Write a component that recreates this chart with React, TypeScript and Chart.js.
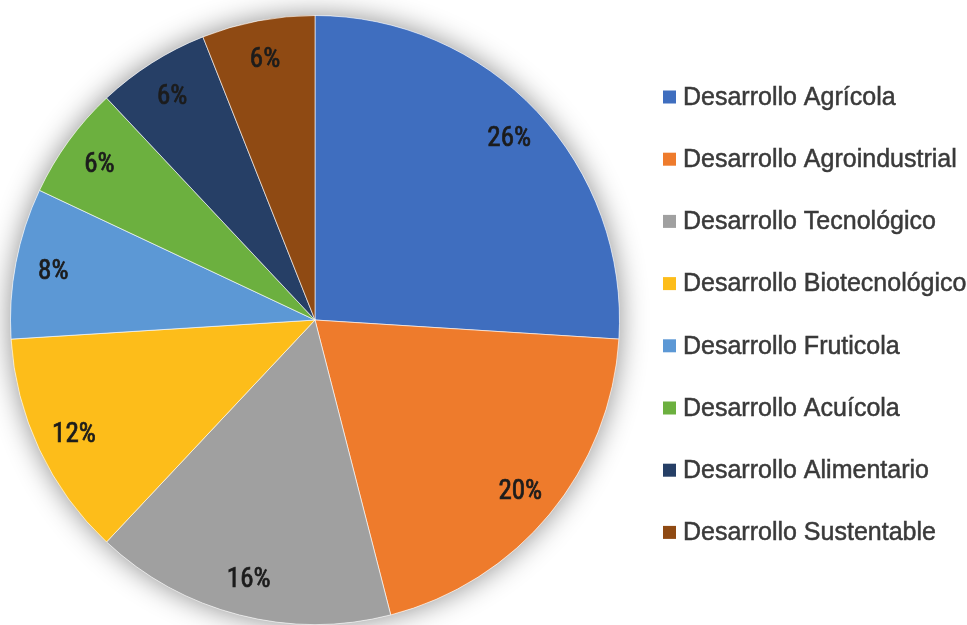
import React, { useEffect, useRef } from "react";
import { Chart, registerables } from "chart.js";

Chart.register(...registerables);

const categories = [
  "Desarrollo Agrícola",
  "Desarrollo Agroindustrial",
  "Desarrollo Tecnológico",
  "Desarrollo Biotecnológico",
  "Desarrollo Fruticola",
  "Desarrollo Acuícola",
  "Desarrollo Alimentario",
  "Desarrollo Sustentable",
];
const values = [26, 20, 16, 12, 8, 6, 6, 6];
const colors = [
  "#3F6EBF",
  "#EE7B2C",
  "#A0A0A0",
  "#FDBD1A",
  "#5C98D5",
  "#6CB03F",
  "#263F66",
  "#8F4A13",
];

const LABEL_FONT = '"Liberation Sans Narrow", "Arial Narrow", "Roboto Condensed", "Liberation Sans", sans-serif';
const LEGEND_FONT = '"Liberation Sans", Arial, sans-serif';

const shadowPlugin = {
  id: "pieShadow",
  beforeDatasetsDraw(chart: any) {
    const meta = chart.getDatasetMeta(0);
    const arc = meta.data[0];
    if (!arc) return;
    const { x, y, outerRadius } = arc.getProps(["x", "y", "outerRadius"], true);
    const ctx = chart.ctx;
    ctx.save();
    ctx.shadowColor = "rgba(0,0,0,0.45)";
    ctx.shadowBlur = 28;
    ctx.shadowOffsetX = 0;
    ctx.shadowOffsetY = 0;
    ctx.fillStyle = "#ffffff";
    ctx.beginPath();
    ctx.arc(x, y, outerRadius, 0, Math.PI * 2);
    ctx.fill();
    ctx.restore();
  },
};

const labelPlugin = {
  id: "pieLabels",
  afterDatasetsDraw(chart: any) {
    const ctx = chart.ctx;
    const meta = chart.getDatasetMeta(0);
    ctx.save();
    ctx.font = '27px ' + LABEL_FONT;
    ctx.fillStyle = "#1c1c1c";
    ctx.strokeStyle = "#1c1c1c";
    ctx.lineWidth = 0.7;
    ctx.textAlign = "center";
    ctx.textBaseline = "middle";
    meta.data.forEach((arc: any, i: number) => {
      const p = arc.getProps(["x", "y", "startAngle", "endAngle", "outerRadius"], true);
      const mid = (p.startAngle + p.endAngle) / 2;
      const r = p.outerRadius * 0.875;
      const lx = p.x + Math.cos(mid) * r;
      const ly = p.y + Math.sin(mid) * r + 2;
      ctx.fillText(values[i] + "%", lx, ly);
      ctx.strokeText(values[i] + "%", lx, ly);
    });
    ctx.restore();
  },
};

const legendPlugin = {
  id: "sideLegend",
  afterDraw(chart: any) {
    const ctx = chart.ctx;
    const labels = chart.data.labels as string[];
    const bg = chart.data.datasets[0].backgroundColor as string[];
    const x0 = 663;
    const y0 = 97;
    const step = 62.2;
    ctx.save();
    ctx.font = '25px ' + LEGEND_FONT;
    ctx.textBaseline = "middle";
    ctx.textAlign = "left";
    labels.forEach((lab, i) => {
      const y = y0 + i * step;
      ctx.fillStyle = bg[i];
      ctx.fillRect(x0, y - 6.5, 13, 13);
      ctx.fillStyle = "#3a3a3a";
      ctx.strokeStyle = "#3a3a3a";
      ctx.lineWidth = 0.5;
      ctx.fillText(lab, x0 + 20, y + 1);
      ctx.strokeText(lab, x0 + 20, y + 1);
    });
    ctx.restore();
  },
};

export default function App() {
  const ref = useRef<HTMLCanvasElement | null>(null);
  useEffect(() => {
    document.body.style.margin = "0";
    document.body.style.background = "#ffffff";
    if (!ref.current) return;
    const chart = new Chart(ref.current, {
      type: "pie",
      data: {
        labels: categories,
        datasets: [
          {
            data: values,
            backgroundColor: colors,
            borderColor: "rgba(255,255,255,0.6)",
            borderWidth: 1,
          },
        ],
      },
      options: {
        animation: false,
        responsive: false,
        maintainAspectRatio: false,
        layout: { padding: { left: 10, right: 347, top: 15, bottom: 0 } },
        plugins: {
          legend: { display: false },
          tooltip: { enabled: false },
        },
      },
      plugins: [shadowPlugin, labelPlugin, legendPlugin],
    });
    return () => chart.destroy();
  }, []);
  return (
    <div style={{ width: 967, height: 625, background: "#fff" }}>
      <canvas ref={ref} width={967} height={625} style={{ display: "block" }} />
    </div>
  );
}
